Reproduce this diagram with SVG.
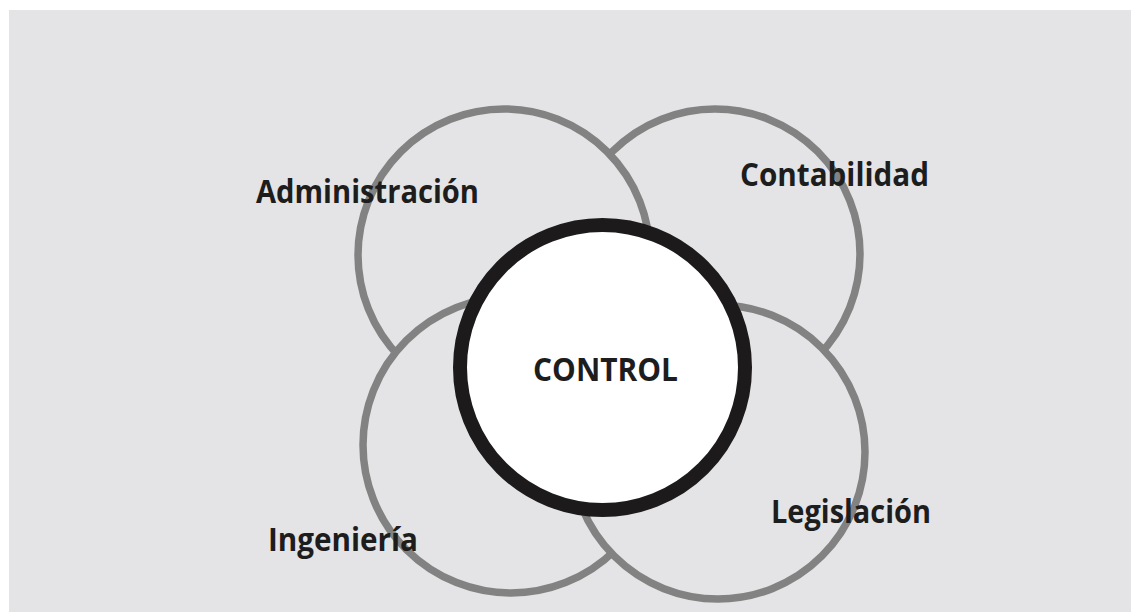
<svg xmlns="http://www.w3.org/2000/svg" width="1131" height="612" viewBox="0 0 1131 612">
  <style>
    .bg { fill: #e4e4e6; }
    .area { fill: #e4e4e6; stroke: #828282; stroke-width: 7.5; }
    .core { fill: #ffffff; stroke: #1c1a1b; stroke-width: 14; }
    .label { font-family: "Open Sans", "Noto Sans", "Liberation Sans", sans-serif; font-weight: 700; font-size: 32px; fill: #1d1d1d; }
  </style>
  <rect x="0" y="0" width="1131" height="612" fill="#ffffff"/>
  <rect class="bg" x="9" y="10" width="1122" height="602"/>

  <!-- overlapping disciplines, back to front -->
  <g id="contabilidad-circle">
    <circle class="area" cx="715" cy="254" r="145"/>
  </g>
  <g id="administracion-circle">
    <circle class="area" cx="504" cy="255" r="146"/>
  </g>
  <g id="ingenieria-circle">
    <circle class="area" cx="511" cy="445" r="148"/>
  </g>
  <g id="legislacion-circle">
    <circle class="area" cx="718" cy="452" r="147"/>
  </g>

  <g id="control">
    <circle class="core" cx="602.5" cy="367.5" r="142.5"/>
    <text class="label" x="533" y="381" textLength="145" lengthAdjust="spacingAndGlyphs">CONTROL</text>
  </g>

  <g id="labels">
    <text id="administracion" class="label" x="256" y="203" textLength="223" lengthAdjust="spacingAndGlyphs">Administración</text>
    <text id="contabilidad" class="label" x="740" y="186" textLength="189" lengthAdjust="spacingAndGlyphs">Contabilidad</text>
    <text id="ingenieria" class="label" x="268" y="551" textLength="150" lengthAdjust="spacingAndGlyphs">Ingeniería</text>
    <text id="legislacion" class="label" x="771" y="523" textLength="160" lengthAdjust="spacingAndGlyphs">Legislación</text>
  </g>
</svg>
